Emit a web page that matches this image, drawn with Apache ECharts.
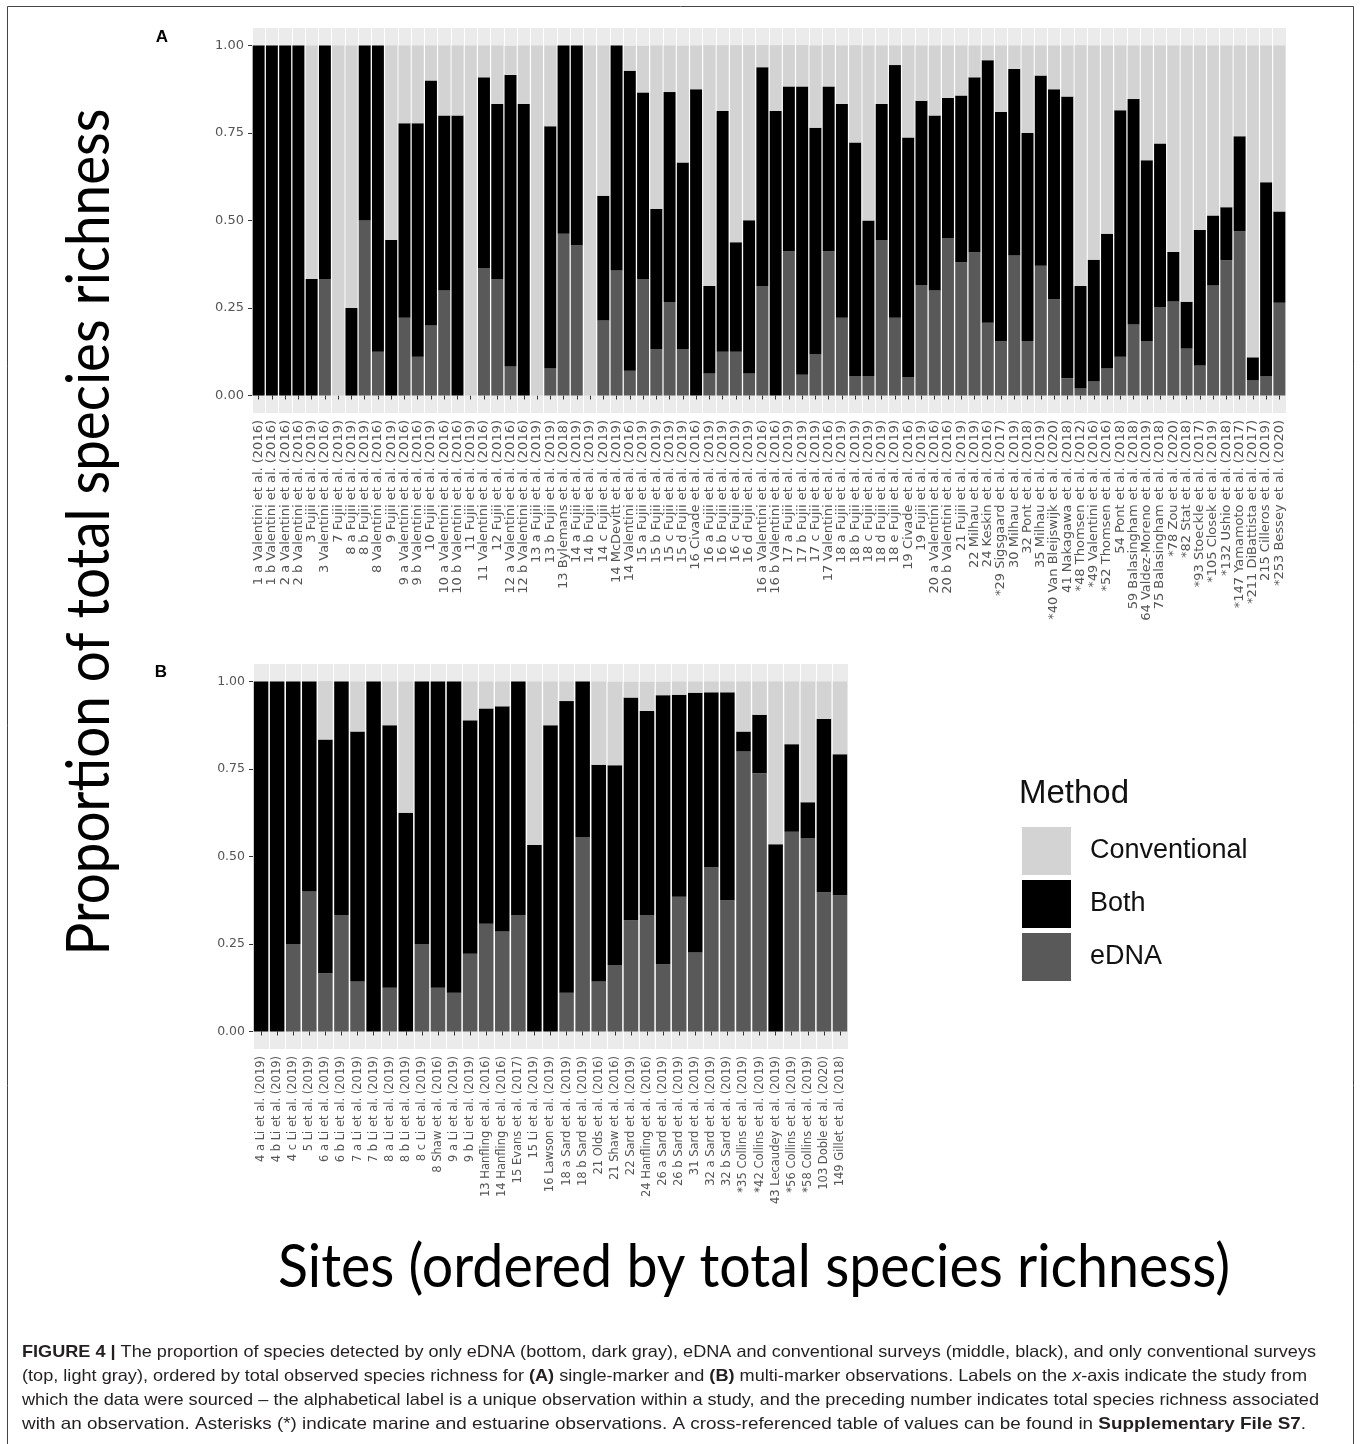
<!DOCTYPE html>
<html><head><meta charset="utf-8">
<script src="https://cdn.jsdelivr.net/npm/echarts@6/dist/echarts.min.js"></script>
<style>html,body{margin:0;padding:0;background:#fff}#c{width:1360px;height:1444px}</style>
</head><body><div id="c"></div>
<script>
// ---------- Panel A: single-marker observations ----------
const sitesA = [
"1 a Valentini et al. (2016)","1 b Valentini et al. (2016)","2 a Valentini et al. (2016)","2 b Valentini et al. (2016)",
"3 Fujii et al. (2019)","3 Valentini et al. (2016)","7 Fujii et al. (2019)","8 a Fujii et al. (2019)","8 b Fujii et al. (2019)",
"8 Valentini et al. (2016)","9 Fujii et al. (2019)","9 a Valentini et al. (2016)","9 b Valentini et al. (2016)","10 Fujii et al. (2019)",
"10 a Valentini et al. (2016)","10 b Valentini et al. (2016)","11 Fujii et al. (2019)","11 Valentini et al. (2016)","12 Fujii et al. (2019)",
"12 a Valentini et al. (2016)","12 b Valentini et al. (2016)","13 a Fujii et al. (2019)","13 b Fujii et al. (2019)","13 Bylemans et al. (2018)",
"14 a Fujii et al. (2019)","14 b Fujii et al. (2019)","14 c Fujii et al. (2019)","14 McDevitt et al. (2019)","14 Valentini et al. (2016)",
"15 a Fujii et al. (2019)","15 b Fujii et al. (2019)","15 c Fujii et al. (2019)","15 d Fujii et al. (2019)","16 Civade et al. (2016)",
"16 a Fujii et al. (2019)","16 b Fujii et al. (2019)","16 c Fujii et al. (2019)","16 d Fujii et al. (2019)","16 a Valentini et al. (2016)",
"16 b Valentini et al. (2016)","17 a Fujii et al. (2019)","17 b Fujii et al. (2019)","17 c Fujii et al. (2019)","17 Valentini et al. (2016)",
"18 a Fujii et al. (2019)","18 b Fujii et al. (2019)","18 c Fujii et al. (2019)","18 d Fujii et al. (2019)","18 e Fujii et al. (2019)",
"19 Civade et al. (2016)","19 Fujii et al. (2019)","20 a Valentini et al. (2016)","20 b Valentini et al. (2016)","21 Fujii et al. (2019)",
"22 Milhau et al. (2019)","24 Keskin et al. (2016)","*29 Sigsgaard et al. (2017)","30 Milhau et al. (2019)","32 Pont et al. (2018)",
"35 Milhau et al. (2019)","*40 Van Bleijswijk et al. (2020)","41 Nakagawa et al. (2018)","*48 Thomsen et al. (2012)","*49 Valentini et al. (2016)",
"*52 Thomsen et al. (2016)","54 Pont et al. (2018)","59 Balasingham et al. (2018)","64 Valdez-Moreno et al. (2019)","75 Balasingham et al. (2018)",
"*78 Zou et al. (2020)","*82 Stat et al. (2018)","*93 Stoeckle et al. (2017)","*105 Closek et al. (2019)","*132 Ushio et al. (2018)",
"*147 Yamamoto et al. (2017)","*211 DiBattista et al. (2017)","215 Cilleros et al. (2019)","*253 Bessey et al. (2020)"
];
const ednaA = [0,0,0,0,0,.333,0,0,.5,.125,0,.222,.111,.2,.3,0,0,.364,.333,.083,0,0,.077,.462,.429,0,.214,.357,.071,.333,.133,.267,.133,0,.063,.125,.125,.063,.313,0,.412,.059,.118,.412,.222,.056,.056,.444,.222,.053,.316,.3,.45,.381,.409,.208,.155,.4,.156,.371,.275,.049,.021,.041,.077,.111,.203,.156,.253,.269,.134,.086,.314,.386,.469,.043,.056,.265];
const bothA = [1,1,1,1,.333,.667,0,.25,.5,.875,.444,.556,.667,.7,.5,.8,0,.545,.5,.833,.833,0,.692,.538,.571,0,.357,.643,.857,.533,.4,.6,.533,.875,.25,.688,.313,.438,.625,.813,.471,.824,.647,.471,.611,.667,.444,.389,.722,.684,.526,.5,.4,.476,.5,.75,.655,.533,.594,.543,.6,.805,.292,.347,.385,.704,.644,.516,.467,.141,.134,.387,.2,.152,.272,.066,.553,.261];
const convA = [0,0,0,0,.667,0,1,.75,0,0,.556,.222,.222,.1,.2,.2,1,.091,.167,.083,.167,1,.231,0,0,1,.429,0,.071,.133,.467,.133,.333,.125,.688,.188,.563,.5,.063,.188,.118,.118,.235,.118,.167,.278,.5,.167,.056,.263,.158,.2,.15,.143,.091,.042,.19,.067,.25,.086,.125,.146,.688,.612,.538,.185,.153,.328,.28,.59,.732,.527,.486,.462,.259,.891,.391,.474];

// ---------- Panel B: multi-marker observations ----------
const sitesB = [
"4 a Li et al. (2019)","4 b Li et al. (2019)","4 c Li et al. (2019)","5 Li et al. (2019)","6 a Li et al. (2019)","6 b Li et al. (2019)",
"7 a Li et al. (2019)","7 b Li et al. (2019)","8 a Li et al. (2019)","8 b Li et al. (2019)","8 c Li et al. (2019)","8 Shaw et al. (2016)",
"9 a Li et al. (2019)","9 b Li et al. (2019)","13 Hanfling et al. (2016)","14 Hanfling et al. (2016)","15 Evans et al. (2017)","15 Li et al. (2019)",
"16 Lawson et al. (2019)","18 a Sard et al. (2019)","18 b Sard et al. (2019)","21 Olds et al. (2016)","21 Shaw et al. (2016)","22 Sard et al. (2019)",
"24 Hanfling et al. (2016)","26 a Sard et al. (2019)","26 b Sard et al. (2019)","31 Sard et al. (2019)","32 a Sard et al. (2019)","32 b Sard et al. (2019)",
"*35 Collins et al. (2019)","*42 Collins et al. (2019)","43 Lecaudey et al. (2019)","*56 Collins et al. (2019)","*58 Collins et al. (2019)",
"103 Doble et al. (2020)","149 Gillet et al. (2018)"
];
const ednaB = [0,0,.25,.4,.167,.333,.143,0,.125,0,.25,.125,.111,.222,.308,.286,.333,0,0,.111,.556,.143,.19,.318,.333,.192,.385,.226,.469,.375,.8,.738,0,.571,.552,.398,.389];
const bothB = [1,1,.75,.6,.667,.667,.714,1,.75,.625,.75,.875,.889,.667,.615,.643,.667,.533,.875,.833,.444,.619,.571,.636,.583,.769,.577,.742,.5,.594,.057,.167,.535,.25,.103,.495,.403];
const convB = [0,0,0,0,.167,0,.143,0,.125,.375,0,0,0,.111,.077,.071,0,.467,.125,.056,0,.238,.238,.045,.083,.038,.038,.032,.031,.031,.143,.095,.465,.179,.345,.107,.208];

const methods = ["Conventional","Both","eDNA"];
const yTicks = [0, 0.25, 0.5, 0.75, 1];

// ---------- helpers ----------
const COLORS = {Conventional:'#D3D3D3', Both:'#000000', eDNA:'#595959'};
const ctx = document.createElement('canvas').getContext('2d');
function tw(font, s){ ctx.font = font; return ctx.measureText(s).width; }

function bar(name, data, gi, stack){
  return {type:'bar', name, data, xAxisIndex:gi, yAxisIndex:gi, stack,
    barCategoryGap:'10%', itemStyle:{color:COLORS[name]}, emphasis:{disabled:true}};
}
function xAx(gi, data, fs){
  return {type:'category', gridIndex:gi, data,
    axisLine:{show:false},
    axisTick:{show:true, alignWithLabel:true, interval:0, length:4, lineStyle:{color:'#333'}},
    axisLabel:{interval:0, rotate:90, margin:7, fontFamily:'DejaVu Sans', fontSize:fs, color:'#555'},
    splitLine:{show:true, interval:0, lineStyle:{color:'#ffffff', width:1}}};
}
function yAx(gi, fs){
  return {type:'value', gridIndex:gi, min:-0.05, max:1.05,
    axisLine:{show:false}, splitLine:{show:false},
    axisTick:{show:true, length:4, customValues:yTicks, lineStyle:{color:'#333'}},
    axisLabel:{customValues:yTicks, formatter:v=>v.toFixed(2), margin:8, fontFamily:'DejaVu Sans', fontSize:fs, color:'#555'}};
}

// ---------- titles and caption (text fitted to reference widths) ----------
const titleFam = 'Lato', titleSize = 60;
const xTitle = 'Sites (ordered by total species richness)';
const yTitle = 'Proportion of total species richness';
const sxT = 952 / tw(titleSize+'px '+titleFam, xTitle);
const syT = 847 / tw(titleSize+'px '+titleFam, yTitle);

const capFam = "'Liberation Sans Narrow','Liberation Sans',Arial,sans-serif";
const capSize = 16.5;
const capStyles = {
  n:{fontWeight:'normal', fontStyle:'normal'},
  b:{fontWeight:'bold', fontStyle:'normal'},
  i:{fontWeight:'normal', fontStyle:'italic'}
};
const captionLines = [
  [['b','FIGURE 4 |'],['n',' The proportion of species detected by only eDNA (bottom, dark gray), eDNA and conventional surveys (middle, black), and only conventional surveys']],
  [['n','(top, light gray), ordered by total observed species richness for '],['b','(A)'],['n',' single-marker and '],['b','(B)'],['n',' multi-marker observations. Labels on the '],['i','x'],['n','-axis indicate the study from']],
  [['n','which the data were sourced \u2013 the alphabetical label is a unique observation within a study, and the preceding number indicates total species richness associated']],
  [['n','with an observation. Asterisks (*) indicate marine and estuarine observations. A cross-referenced table of values can be found in '],['b','Supplementary File S7'],['n','.']]
];
const capRight = [1316, 1307, 1319, 1306];
const capLeft = 22, capY0 = 1352, capDy = 24;
function segFont(k){ const s = capStyles[k]; return s.fontStyle+' '+s.fontWeight+' '+capSize+'px '+capFam; }
const rich = {};
Object.keys(capStyles).forEach(k=>{ rich[k] = Object.assign({fontSize:capSize, fontFamily:capFam, fill:'#231f20'}, capStyles[k]); });
const captionGraphics = captionLines.map((segs, li)=>{
  let w = 0; segs.forEach(([k,t])=>{ w += tw(segFont(k), t); });
  const txt = segs.map(([k,t])=>'{'+k+'|'+t+'}').join('');
  return {type:'text', x:capLeft, y:capY0 + li*capDy, scaleX:(capRight[li]-capLeft)/w,
    style:{text:txt, rich, fontSize:capSize, fontFamily:capFam, fill:'#231f20', align:'left', verticalAlign:'middle'}};
});

// ---------- chart ----------
const chart = echarts.init(document.getElementById('c'), null, {renderer:'canvas'});
chart.setOption({
  animation:false,
  backgroundColor:'#ffffff',
  grid:[
    {left:252, top:28, width:1034, height:385, show:true, backgroundColor:'#EBEBEB', borderWidth:0},
    {left:253, top:664, width:595, height:385, show:true, backgroundColor:'#EBEBEB', borderWidth:0}
  ],
  xAxis:[xAx(0, sitesA, 13), xAx(1, sitesB, 11.5)],
  yAxis:[yAx(0, 13), yAx(1, 12.5)],
  legend:{
    data:methods, orient:'vertical', left:1022, top:827, itemWidth:49, itemHeight:48, itemGap:5,
    icon:'rect', selectedMode:false, padding:0,
    textStyle:{fontFamily:'Liberation Sans', fontSize:27, color:'#111', padding:[0,0,0,14]}
  },
  series:[
    bar('eDNA', ednaA, 0, 'A'), bar('Both', bothA, 0, 'A'), bar('Conventional', convA, 0, 'A'),
    bar('eDNA', ednaB, 1, 'B'), bar('Both', bothB, 1, 'B'), bar('Conventional', convB, 1, 'B')
  ],
  graphic:[
    {type:'rect', shape:{x:7.5, y:6.5, width:1346, height:1470}, style:{fill:'none', stroke:'#444', lineWidth:1}, silent:true},
    {type:'text', x:162, y:37, style:{text:'A', fontFamily:'Liberation Sans', fontWeight:'bold', fontSize:17, fill:'#000', align:'center', verticalAlign:'middle'}},
    {type:'text', x:161, y:672, style:{text:'B', fontFamily:'Liberation Sans', fontWeight:'bold', fontSize:17, fill:'#000', align:'center', verticalAlign:'middle'}},
    {type:'text', x:1019, y:794, style:{text:'Method', fontFamily:'Liberation Sans', fontSize:33, fill:'#111', align:'left', verticalAlign:'middle'}},
    {type:'text', x:754, y:1268, scaleX:sxT, style:{text:xTitle, fontFamily:titleFam, fontSize:titleSize, fill:'#000', align:'center', verticalAlign:'middle'}},
    {type:'text', x:90, y:532, rotation:Math.PI/2, scaleX:syT, style:{text:yTitle, fontFamily:titleFam, fontSize:titleSize, fill:'#000', align:'center', verticalAlign:'middle'}}
  ].concat(captionGraphics)
});
</script></body></html>
